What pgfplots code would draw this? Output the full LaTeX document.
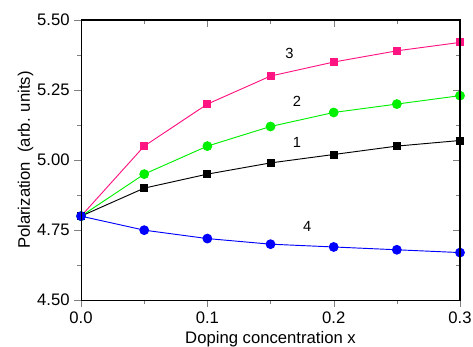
\documentclass[border=0pt]{standalone}
\usepackage{pgfplots}
\pgfplotsset{compat=1.18}
\usetikzlibrary{calc}
\usepackage{fontspec}
\setmainfont{Liberation Sans}
\definecolor{cmag}{RGB}{255,20,130}
\definecolor{cgreen}{RGB}{0,240,0}
\definecolor{cblue}{RGB}{0,0,255}
\begin{document}
\begin{tikzpicture}
\begin{axis}[
  scale only axis, width=284pt, height=210pt,
  xmin=0, xmax=0.3, ymin=4.5, ymax=5.5,
  xtick={0,0.1,0.2,0.3}, ytick={4.5,4.75,5,5.25,5.5},
  minor x tick num=1, minor y tick num=1,
  xtick pos=left, ytick pos=left,
  tick align=outside,
  major tick length=5pt, minor tick length=3pt,
  /pgf/number format/assume math mode=true,
  xticklabel style={/pgf/number format/.cd, fixed, fixed zerofill, precision=1},
  yticklabel style={/pgf/number format/.cd, fixed, fixed zerofill, precision=2},
  tick label style={font=\fontsize{12.5}{14}\selectfont},
  label style={font=\fontsize{12.5}{14}\selectfont},
  xlabel={Doping concentration x},
  ylabel={Polarization\ \ (arb. units)},
  xlabel style={yshift=1pt},
  ylabel style={yshift=-4pt},
  axis line style={line width=0.8pt},
  clip=false,
]
\addplot[cmag, line width=0.7pt, mark=square*, mark size=2.6pt] coordinates {
 (0,4.80) (0.05,5.05) (0.1,5.20) (0.15,5.30) (0.2,5.35) (0.25,5.39) (0.3,5.42)};
\addplot[cgreen, line width=0.7pt, mark=*, mark size=3.3pt] coordinates {
 (0,4.80) (0.05,4.95) (0.1,5.05) (0.15,5.12) (0.2,5.17) (0.25,5.20) (0.3,5.23)};
\addplot[black, line width=0.7pt, mark=square*, mark size=2.6pt] coordinates {
 (0,4.80) (0.05,4.90) (0.1,4.95) (0.15,4.99) (0.2,5.02) (0.25,5.05) (0.3,5.07)};
\addplot[cblue, line width=0.7pt, mark=*, mark size=3.3pt] coordinates {
 (0,4.80) (0.05,4.75) (0.1,4.72) (0.15,4.70) (0.2,4.69) (0.25,4.68) (0.3,4.67)};
\node[font=\fontsize{11}{13}\selectfont] at (axis cs:0.165,5.382) {3};
\node[font=\fontsize{11}{13}\selectfont] at (axis cs:0.171,5.208) {2};
\node[font=\fontsize{11}{13}\selectfont] at (axis cs:0.171,5.063) {1};
\node[font=\fontsize{11}{13}\selectfont] at (axis cs:0.179,4.764) {4};
\coordinate (bbsw) at (rel axis cs:0,0);
\coordinate (bbne) at (rel axis cs:1,1);
\end{axis}
\begin{axis}[
  scale only axis, width=284pt, height=210pt,
  xmin=0, xmax=0.3, ymin=4.5, ymax=5.5,
  xtick={0,0.1,0.2,0.3}, ytick={4.5,4.75,5,5.25,5.5},
  minor x tick num=1, minor y tick num=1,
  xtick pos=right, ytick pos=right,
  tick align=inside,
  major tick length=5pt, minor tick length=3pt,
  xticklabels={}, yticklabels={},
  axis line style={line width=0.8pt},
]
\end{axis}
\pgfresetboundingbox
\path ($(bbsw)+(-60.75pt,-34.5pt)$) rectangle ($(bbne)+(9.75pt,15pt)$);
\end{tikzpicture}
\end{document}
